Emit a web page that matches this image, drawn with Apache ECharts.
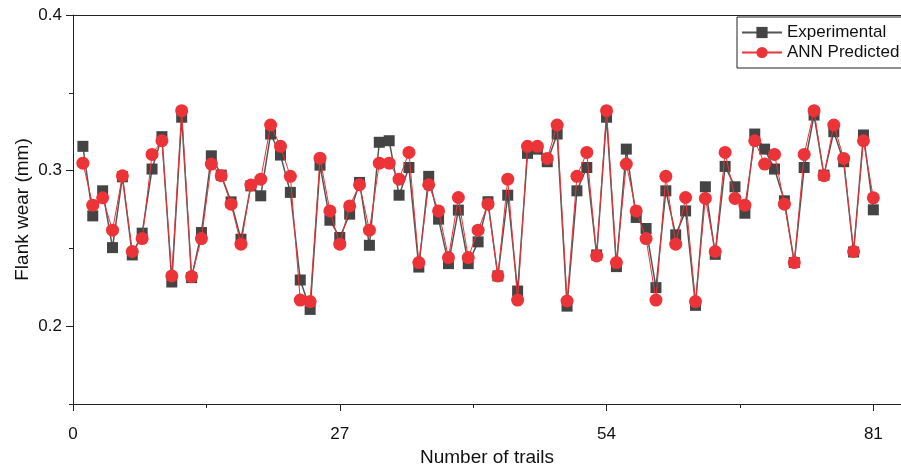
<!DOCTYPE html>
<html>
<head>
<meta charset="utf-8">
<script src="https://cdn.jsdelivr.net/npm/echarts@6/dist/echarts.min.js"></script>
<style>
html,body{margin:0;padding:0;background:#fff;}
#chart{width:901px;height:467px;}
</style>
</head>
<body>
<div id="chart"></div>
<script>
const trials = Array.from({length: 81}, (_, i) => i + 1);
const experimental = [
  0.3156, 0.2709, 0.2870, 0.2505, 0.2960, 0.2458, 0.2598, 0.3010, 0.3218, 0.2284,
  0.3343, 0.2312, 0.2602, 0.3095, 0.2971, 0.2799, 0.2559, 0.2902, 0.2838, 0.3235,
  0.3100, 0.2860, 0.2297, 0.2108, 0.3035, 0.2681, 0.2570, 0.2720, 0.2924, 0.2520,
  0.3182, 0.3192, 0.2842, 0.3020, 0.2380, 0.2963, 0.2688, 0.2402, 0.2746, 0.2402,
  0.2542, 0.2800, 0.2323, 0.2842, 0.2226, 0.3111, 0.3138, 0.3057, 0.3235, 0.2129,
  0.2870, 0.3020, 0.2458, 0.3343, 0.2383, 0.3138, 0.2699, 0.2628, 0.2248, 0.2870,
  0.2587, 0.2741, 0.2134, 0.2896, 0.2462, 0.3027, 0.2896, 0.2726, 0.3235, 0.3138,
  0.3010, 0.2806, 0.2409, 0.3020, 0.3357, 0.2971, 0.3250, 0.3057, 0.2477, 0.3229,
  0.2748
];
const annPredicted = [
  0.3048, 0.2778, 0.2825, 0.2617, 0.2967, 0.2480, 0.2563, 0.3104, 0.3192, 0.2323,
  0.3385, 0.2319, 0.2563, 0.3042, 0.2967, 0.2784, 0.2527, 0.2907, 0.2945, 0.3293,
  0.3156, 0.2963, 0.2168, 0.2158, 0.3080, 0.2741, 0.2527, 0.2773, 0.2909, 0.2617,
  0.3048, 0.3048, 0.2945, 0.3117, 0.2409, 0.2909, 0.2741, 0.2441, 0.2827, 0.2441,
  0.2617, 0.2784, 0.2323, 0.2945, 0.2168, 0.3156, 0.3156, 0.3078, 0.3293, 0.2162,
  0.2963, 0.3117, 0.2451, 0.3385, 0.2409, 0.3042, 0.2741, 0.2563, 0.2168, 0.2963,
  0.2527, 0.2827, 0.2158, 0.2821, 0.2480, 0.3117, 0.2821, 0.2778, 0.3192, 0.3042,
  0.3104, 0.2784, 0.2409, 0.3104, 0.3385, 0.2967, 0.3293, 0.3078, 0.2480, 0.3192,
  0.2825
];
const yLabelValues = [0.2, 0.3, 0.4];
const yMinorValues = [0.15, 0.25, 0.35];
const seriesNames = ['Experimental', 'ANN Predicted'];

const FONT = 'Liberation Sans, Arial, sans-serif';
const chart = echarts.init(document.getElementById('chart'), null, {renderer: 'canvas'});
const axisColor = '#222';
chart.setOption({
  animation: false,
  backgroundColor: '#fff',
  grid: {left: 73, right: 0, top: 15, bottom: 63, containLabel: false, outerBoundsMode: 'none'},
  legend: {
    left: 737, top: 17,
    orient: 'vertical',
    itemWidth: 40, itemHeight: 14, itemGap: 3,
    padding: [7, 3, 7, 4],
    borderColor: '#222', borderWidth: 1,
    textStyle: {fontFamily: FONT, fontSize: 17, color: '#111'},
    data: seriesNames
  },
  xAxis: [{
    type: 'value', min: 0, max: 83.8, interval: 27,
    name: 'Number of trails', nameLocation: 'middle', nameGap: 43,
    nameTextStyle: {fontFamily: FONT, fontSize: 19, color: '#111'},
    axisLine: {show: true, onZero: false, lineStyle: {color: axisColor, width: 1}},
    axisTick: {show: true, length: 7, lineStyle: {color: axisColor}},
    minorTick: {show: true, splitNumber: 2, length: 4, lineStyle: {color: axisColor}},
    axisLabel: {fontFamily: FONT, fontSize: 17, color: '#111', margin: 22,
      showMaxLabel: false},
    splitLine: {show: false}
  }, {
    type: 'value', position: 'top', min: 0, max: 83.8,
    axisLine: {show: true, lineStyle: {color: axisColor, width: 1}},
    axisTick: {show: false}, axisLabel: {show: false}, splitLine: {show: false}
  }],
  yAxis: [{
    type: 'value', min: 0.15, max: 0.4,
    name: 'Flank wear (mm)', nameLocation: 'middle', nameGap: 41, nameMoveOverlap: false,
    nameTextStyle: {fontFamily: FONT, fontSize: 19, color: '#111'},
    axisLine: {show: true, onZero: false, lineStyle: {color: axisColor, width: 1}},
    axisTick: {show: true, length: 7, customValues: yLabelValues, lineStyle: {color: axisColor}},
    axisLabel: {fontFamily: FONT, fontSize: 17, color: '#111', margin: 11,
      customValues: yLabelValues, formatter: v => v.toFixed(1)},
    splitLine: {show: false}
  }, {
    type: 'value', min: 0.15, max: 0.4, position: 'left',
    axisLine: {show: false},
    axisTick: {show: true, length: 4, customValues: yMinorValues, lineStyle: {color: axisColor}},
    axisLabel: {show: false},
    splitLine: {show: false}
  }],
  series: [{
    name: seriesNames[0], type: 'line', xAxisIndex: 0, yAxisIndex: 0,
    data: trials.map((t, i) => [t, experimental[i]]),
    symbol: 'rect', symbolSize: 11,
    itemStyle: {color: '#444444'},
    lineStyle: {color: '#555555', width: 1.5},
    z: 2
  }, {
    name: seriesNames[1], type: 'line', xAxisIndex: 0, yAxisIndex: 0,
    data: trials.map((t, i) => [t, annPredicted[i]]),
    symbol: 'circle', symbolSize: 13,
    itemStyle: {color: '#ec3338'},
    lineStyle: {color: '#ec3338', width: 1},
    z: 3
  }]
});
</script>
</body>
</html>
